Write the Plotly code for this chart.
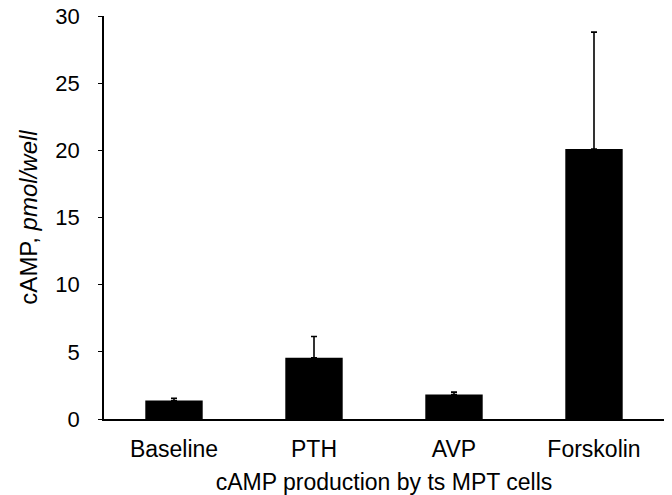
import plotly.graph_objects as go

categories = ["Baseline", "PTH", "AVP", "Forskolin"]
camp_mean = [1.38, 4.56, 1.82, 20.1]
camp_err = [0.17, 1.58, 0.18, 8.7]
y_ticks = [0, 5, 10, 15, 20, 25, 30]

FONT = "Liberation Sans, Arial, Helvetica, sans-serif"

fig = go.Figure()
fig.add_trace(go.Bar(
    x=categories,
    y=camp_mean,
    width=0.41,
    marker=dict(color="black", line=dict(width=0)),
    error_y=dict(type="data", array=camp_err, arrayminus=[0] * len(camp_err),
                 symmetric=False, color="black", thickness=1.6, width=3),
    showlegend=False,
))

fig.update_layout(
    width=672, height=495,
    margin=dict(l=104, r=8, t=16, b=76),
    paper_bgcolor="white", plot_bgcolor="white",
    font=dict(family=FONT, color="black", size=23),
    xaxis=dict(
        range=[-0.5, 3.5],
        showline=True, linecolor="black", linewidth=1.8,
        ticks="", showgrid=False, zeroline=False,
        tickfont=dict(size=23),
        ticklabelstandoff=8,
        title=dict(text="cAMP production by ts MPT cells", font=dict(size=23), standoff=17),
        automargin=False,
    ),
    yaxis=dict(
        range=[0, 30],
        tickvals=y_ticks,
        showline=True, linecolor="black", linewidth=1.8,
        ticks="outside", ticklen=4, tickwidth=1.4, tickcolor="black",
        showgrid=False, zeroline=False,
        tickfont=dict(size=22),
        ticklabelstandoff=14,
        ticklabeloverflow="allow",
        title=dict(text="cAMP, <i>pmol/well</i>", font=dict(size=24), standoff=11),
        automargin=False,
    ),
)

# remove the browser's default 8px body margin so the figure fills the window
fig.write_html("out.html", config={"displayModeBar": False},
               post_script="document.body.style.margin='0';")
